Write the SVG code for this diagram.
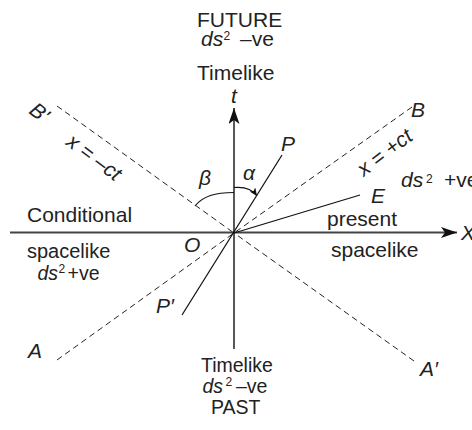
<svg xmlns="http://www.w3.org/2000/svg" width="472" height="430" viewBox="0 0 472 430">
<defs>
<style>
text{font-family:"Liberation Sans",Arial,sans-serif;fill:#222;font-size:21px}
.i{font-style:italic}
.sup{font-size:12px;font-style:normal}
.b{font-size:19.5px}
.axis{stroke:#111;stroke-width:1.4;fill:none}
.haxis{stroke:#444;stroke-width:1.8;fill:none}
.dash{stroke:#222;stroke-width:1;stroke-dasharray:6 4;fill:none}
.ln{stroke:#111;stroke-width:1.2;fill:none}
</style>
<marker id="ah" viewBox="0 0 16 11" refX="16" refY="5.5" markerWidth="16" markerHeight="11" markerUnits="userSpaceOnUse" orient="auto"><path d="M16,5.5 L0,0 L4,5.5 L0,11 Z" fill="#111"/></marker>
<marker id="sa" viewBox="0 0 8 7" refX="8" refY="3.5" markerWidth="8" markerHeight="7" markerUnits="userSpaceOnUse" orient="auto"><path d="M8,3.5 L0,0 L2,3.5 L0,7 Z" fill="#111"/></marker>
</defs>

<g id="connectors">
<line class="haxis" x1="10" y1="232.5" x2="457" y2="232.5" marker-end="url(#ah)"/>
<line class="axis" x1="234" y1="349" x2="234" y2="108" marker-end="url(#ah)"/>
<line class="dash" x1="57" y1="106" x2="234" y2="233"/>
<line class="dash" x1="412" y1="107" x2="234" y2="233"/>
<line class="dash" x1="57" y1="360" x2="234" y2="233"/>
<line class="dash" x1="414" y1="361" x2="234" y2="233"/>
<line class="ln" x1="182" y1="315" x2="282" y2="155"/>
<line class="ln" x1="234" y1="233" x2="360" y2="195"/>
<path class="ln" d="M195,206 C203,196 215,192.5 234,192.5"/>
<path class="ln" d="M234,187.5 Q250,186 257,196" marker-end="url(#sa)"/>
</g>

<g id="future">
<text x="197" y="26.5">FUTURE</text>
<text x="201" y="46"><tspan class="i">ds</tspan></text>
<text x="223.5" y="39.5" class="sup">2</text>
<text x="240" y="46">–ve</text>
<text x="197" y="79.5">Timelike</text>
</g>

<g id="past">
<text x="201" y="372" class="b">Timelike</text>
<text x="202.5" y="393.3" class="b i">ds</text>
<text x="225.5" y="386" class="sup">2</text>
<text x="236" y="393.3" class="b">–ve</text>
<text x="211" y="414" class="b">PAST</text>
</g>

<g id="left-region">
<text x="27" y="222">Conditional</text>
<text x="27" y="258" style="font-size:20px">spacelike</text>
<text x="37.5" y="280" class="i" style="font-size:19.5px">ds</text>
<text x="58.5" y="272.7" class="sup">2</text>
<text x="67.5" y="280" style="font-size:19.5px">+ve</text>
</g>

<g id="right-region">
<text x="401" y="187.3" class="i">ds</text>
<text x="426" y="182.7" class="sup">2</text>
<text x="444" y="187.3">+ve</text>
<text x="327" y="226">present</text>
<text x="331" y="257">spacelike</text>
</g>

<g id="labels">
<text x="231" y="103" class="i">t</text>
<text x="461" y="240" class="i">X</text>
<text x="184" y="252" class="i">O</text>
<text x="281" y="151" class="i">P</text>
<text x="156" y="313" class="i">P′</text>
<text x="371" y="203" class="i">E</text>
<text x="411" y="117" class="i">B</text>
<text x="28" y="358" class="i">A</text>
<text x="420" y="376" class="i">A′</text>
<text x="243" y="180" class="i">α</text>
<text x="199" y="185" class="i">β</text>
<text class="i" text-anchor="middle" transform="translate(35,118) rotate(38)">B'</text>
<text class="i" text-anchor="middle" transform="translate(90,163) rotate(37)">x = –ct</text>
<text class="i" text-anchor="middle" transform="translate(389,158) rotate(-37)">x = +ct</text>
</g>
</svg>
